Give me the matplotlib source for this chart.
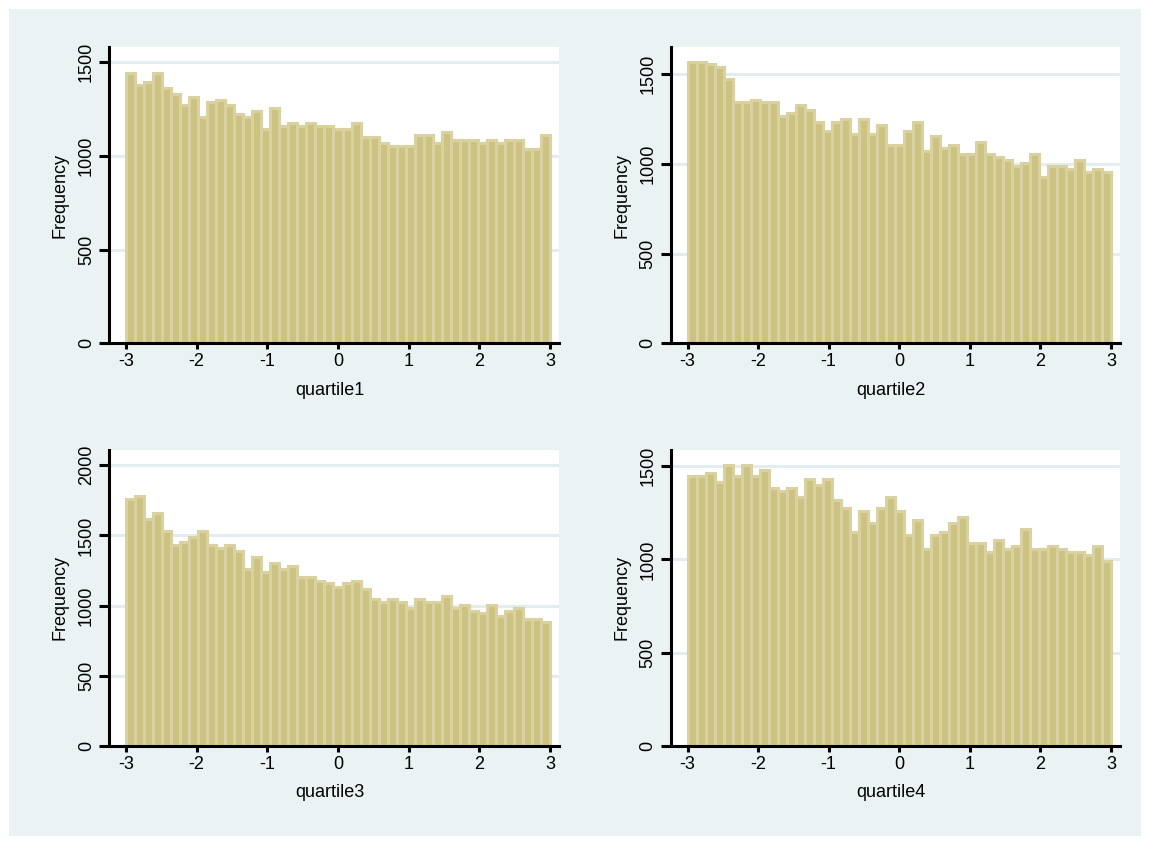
import matplotlib
matplotlib.use("Agg")
import matplotlib.pyplot as plt
import numpy as np
from matplotlib.patches import Rectangle

# ---------------- data ----------------
bin_range = (-3.0, 3.0)
n_bins = 47

quartile1 = [1442, 1378, 1394, 1442, 1362, 1330, 1271, 1314, 1207, 1287, 1298, 1271,
             1223, 1207, 1239, 1143, 1255, 1159, 1175, 1159, 1175, 1159, 1159, 1143,
             1143, 1175, 1100, 1100, 1068, 1052, 1052, 1052, 1110, 1110, 1068, 1127,
             1084, 1084, 1084, 1068, 1084, 1068, 1084, 1084, 1036, 1036, 1110]
quartile2 = [1568, 1568, 1557, 1540, 1474, 1347, 1347, 1358, 1347, 1347, 1265, 1281,
             1331, 1298, 1232, 1182, 1232, 1248, 1165, 1248, 1165, 1215, 1105, 1105,
             1182, 1232, 1072, 1154, 1088, 1105, 1055, 1055, 1121, 1055, 1039, 1022,
             989, 1006, 1055, 928, 989, 989, 972, 1022, 956, 972, 956]
quartile3 = [1761, 1782, 1617, 1660, 1531, 1431, 1452, 1488, 1531, 1431, 1409, 1431,
             1388, 1258, 1345, 1237, 1301, 1258, 1280, 1201, 1201, 1179, 1158, 1136,
             1158, 1179, 1115, 1050, 1029, 1050, 1029, 986, 1050, 1029, 1029, 1072,
             986, 1007, 964, 950, 1007, 928, 964, 986, 907, 907, 885]
quartile4 = [1446, 1446, 1462, 1414, 1505, 1446, 1505, 1446, 1479, 1382, 1366, 1382,
             1334, 1430, 1398, 1430, 1318, 1275, 1146, 1259, 1195, 1275, 1334, 1259,
             1130, 1211, 1055, 1130, 1146, 1195, 1227, 1087, 1087, 1039, 1104, 1055,
             1071, 1162, 1055, 1055, 1071, 1055, 1039, 1039, 1023, 1071, 991]

x_labels = ["quartile1", "quartile2", "quartile3", "quartile4"]
y_label = "Frequency"
x_ticks = [-3, -2, -1, 0, 1, 2, 3]
y_ticks_small = [0, 500, 1000, 1500]
y_ticks_large = [0, 500, 1000, 1500, 2000]

# ---------------- style ----------------
BG = "#EAF2F3"
GRID = "#E3ECEE"
FILL = "#CCC383"
EDGE = "#D9D19F"
FONT = "Liberation Sans"
FS = 13

W, H = 1150, 841
fig = plt.figure(figsize=(W / 100, H / 100), dpi=100)
fig.patch.set_facecolor("white")
bg = Rectangle((9 / W, 5 / H), (1141 - 9) / W, (832 - 5) / H,
               transform=fig.transFigure, facecolor=BG, edgecolor="none", zorder=-10)
fig.patches.append(bg)

# axes boxes in pixel coords: left, top, right, bottom
boxes = [(109, 46.7, 559, 343.3), (670.5, 46.7, 1120, 343.3),
         (109, 450, 559, 746), (670.5, 450, 1120, 746)]
series = [quartile1, quartile2, quartile3, quartile4]
yticks_list = [y_ticks_small, y_ticks_small, y_ticks_large, y_ticks_small]

edges = np.linspace(bin_range[0], bin_range[1], n_bins + 1)

for (l, t, r, b), vals, xl, yt in zip(boxes, series, x_labels, yticks_list):
    ax = fig.add_axes([l / W, 1 - b / H, (r - l) / W, (b - t) / H])
    ax.set_zorder(1)
    ax.set_facecolor("white")
    ax.bar(edges[:-1], vals, width=np.diff(edges), align="edge",
           color=FILL, edgecolor=EDGE, linewidth=2.2, zorder=2)
    # plot-region margins: ~17 px on the left, ~9 px on the right
    upp = (bin_range[1] - bin_range[0]) / (r - l - 26)
    ax.set_xlim(bin_range[0] - 17 * upp, bin_range[1] + 9 * upp)
    top = max(max(vals), yt[-1])
    ax.set_ylim(0, top / 0.9484)
    ax.set_xticks(x_ticks)
    ax.set_xticklabels([str(v) for v in x_ticks])
    ax.set_yticks(yt)
    ax.set_yticklabels([str(v) for v in yt])
    ax.set_axisbelow(True)
    ax.yaxis.grid(True, color=GRID, linewidth=2.2, zorder=0)
    ax.xaxis.grid(False)
    for s in ("top", "right"):
        ax.spines[s].set_visible(False)
    for s in ("left", "bottom"):
        ax.spines[s].set_color("black")
        ax.spines[s].set_linewidth(2.2)
        ax.spines[s].set_zorder(5)
    ax.tick_params(axis="y", direction="out", length=7, width=2.2, pad=3,
                   labelsize=FS, labelrotation=90, colors="black")
    ax.tick_params(axis="x", direction="out", length=4.5, width=2.2, pad=2.5,
                   labelsize=FS, colors="black")
    for lab in ax.get_yticklabels():
        lab.set_fontfamily(FONT)
        lab.set_va("center")
    for lab in ax.get_xticklabels():
        lab.set_fontfamily(FONT)
    ax.text(0.49, -0.1575, xl, transform=ax.transAxes, ha="center", va="center",
            fontsize=FS, family=FONT, color="black")
    ax.text(-0.109, 0.5, y_label, transform=ax.transAxes, ha="center", va="center",
            rotation=90, fontsize=FS, family=FONT, color="black")

fig.savefig("out.png", dpi=100, facecolor=fig.get_facecolor())
